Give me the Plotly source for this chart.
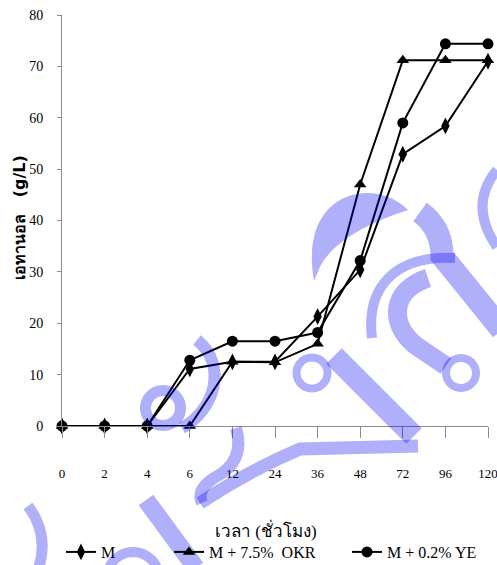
import plotly.graph_objects as go

# Sampling times (hours) and ethanol concentration (g/L) for each medium
hours = ["0", "2", "4", "6", "12", "24", "36", "48", "72", "96", "120"]
ethanol_m = [0, 0, 0, 11.1, 12.5, 12.5, 21.3, 30.4, 52.9, 58.4, 71.0]
ethanol_okr = [0, 0, 0, 0, 12.5, 12.4, 16.0, 47.0, 71.2, 71.2, 71.2]
ethanol_ye = [0, 0, 0, 12.8, 16.5, 16.5, 18.2, 32.2, 59.0, 74.4, 74.4]

series_names = ["M", "M + 7.5%  OKR", "M + 0.2% YE"]
yticks = [0, 10, 20, 30, 40, 50, 60, 70, 80]

W, H = 497, 565
L, R, T, B = 62, 9, 15, 139
PW, PH = W - L - R, H - T - B

SERIF = "Liberation Serif, Times New Roman, serif"


def px(x, y):
    """Pixel position on the page -> paper coordinates."""
    return (x - L) / PW, (T + PH - y) / PH


def path(cmds):
    out = []
    for c in cmds:
        if isinstance(c, str):
            out.append(c)
        else:
            xp, yp = px(*c)
            out.append(f"{xp:.5f},{yp:.5f}")
    return " ".join(out)


def ring(cx, cy, r, n=48):
    import math
    cmds = []
    for i in range(n):
        a = 2 * math.pi * i / n
        cmds += ["M" if i == 0 else "L", (cx + r * math.cos(a), cy + r * math.sin(a))]
    cmds.append("Z")
    return path(cmds)


WM = "rgba(0,0,239,0.31)"

fig = go.Figure()

styles = [
    dict(symbol="diamond-tall", size=12),
    dict(symbol="triangle-up", size=11),
    dict(symbol="circle", size=11),
]
for i, (name, vals, st) in enumerate(zip(series_names, [ethanol_m, ethanol_okr, ethanol_ye], styles)):
    fig.add_trace(go.Scatter(
        x=hours, y=vals, name=name, mode="lines+markers",
        line=dict(color="black", width=2),
        marker=dict(color="black", symbol=st["symbol"], size=st["size"]),
        cliponaxis=False,
        legend="legend" if i == 0 else f"legend{i + 1}",
    ))

# watermark strokes drawn over the plot
strokes = [
    # centre glyph: ring with heavy diagonal and foot
    (ring(312, 373, 15.5), 8),
    (path(["M", (334, 356), "L", (414, 436)]), 22),
    (path(["M", (200, 503), "Q", (250, 470), (300, 449), "L", (418, 446)]), 13),
    # right glyph
    (path(["M", (372, 338), "C", (366, 290), (392, 255), (455, 258)]), 10),
    (path(["M", (420, 212), "Q", (442, 228), (442, 256), "L", (502, 330)]), 23),
    (path(["M", (428, 278), "C", (392, 290), (388, 322), (415, 345), "L", (446, 366)]), 19),
    (ring(461, 373, 15), 8),
    (path(["M", (497, 170), "Q", (468, 205), (497, 247)]), 10),
    # left glyph: ring with tall tail
    (ring(163, 408, 17.5), 11),
    (path(["M", (197, 340), "C", (228, 365), (215, 410), (182, 428)]), 12),
    # lower glyphs
    (path(["M", (236, 428), "Q", (246, 462), (214, 478), "Q", (196, 490), (202, 503)]), 12),
    (path(["M", (146, 500), "L", (196, 568)]), 18),
    (ring(133, 578, 26), 10),
    (path(["M", (28, 506), "Q", (50, 535), (38, 570)]), 11),
]
shapes = []
for d, w in strokes:
    shapes.append(dict(type="path", xref="paper", yref="paper", path=d,
                       line=dict(color=WM, width=w), layer="above"))
# crescent on top of centre glyph (filled)
shapes.append(dict(
    type="path", xref="paper", yref="paper", layer="above",
    path=path(["M", (408, 210), "C", (375, 176), (298, 190), (314, 281),
               "L", (320, 267), "C", (332, 243), (365, 224), (408, 210), "Z"]),
    fillcolor=WM, line=dict(width=0),
))

annotations = [
    dict(text="เวลา (ชั่วโมง)", xref="paper", yref="paper",
         x=px(266, 0)[0], y=px(0, 530)[1], showarrow=False,
         font=dict(family=SERIF, size=17, color="black"),
         xanchor="center", yanchor="middle"),
    dict(text="<b>เอทานอล   (g/L)</b>", xref="paper", yref="paper",
         x=px(20, 0)[0], y=px(0, 218)[1], showarrow=False, textangle=-90,
         font=dict(family="DejaVu Sans, sans-serif", size=16, color="black"),
         xanchor="center", yanchor="middle"),
]

leg_y = px(0, 552)[1]
legend_common = dict(orientation="h", yanchor="middle", xanchor="left", y=leg_y,
                     font=dict(family=SERIF, size=16, color="black"),
                     bgcolor="rgba(0,0,0,0)", itemwidth=30, tracegroupgap=0)

fig.update_layout(
    width=W, height=H,
    margin=dict(l=L, r=R, t=T, b=B, autoexpand=False),
    paper_bgcolor="white", plot_bgcolor="white",
    showlegend=True,
    legend=dict(legend_common, x=px(61, 0)[0]),
    legend2=dict(legend_common, x=px(169, 0)[0]),
    legend3=dict(legend_common, x=px(347, 0)[0]),
    xaxis=dict(
        type="category", categoryorder="array", categoryarray=hours,
        range=[0, len(hours) - 1], showgrid=False, zeroline=False,
        showline=True, linecolor="#8c8c8c", linewidth=1,
        ticks="outside", ticklen=11, tickcolor="#8c8c8c", tickwidth=1,
        ticklabelstandoff=24, automargin=False,
        tickfont=dict(family=SERIF, size=13, color="black"),
    ),
    yaxis=dict(
        range=[0, 80], tickvals=yticks, showgrid=False, zeroline=False,
        showline=True, linecolor="#8c8c8c", linewidth=1,
        ticks="outside", ticklen=4, tickcolor="#8c8c8c", tickwidth=1,
        ticklabelstandoff=11, automargin=False,
        tickfont=dict(family=SERIF, size=14, color="black"),
    ),
    shapes=shapes,
    annotations=annotations,
)

fig.write_html("out.html")
